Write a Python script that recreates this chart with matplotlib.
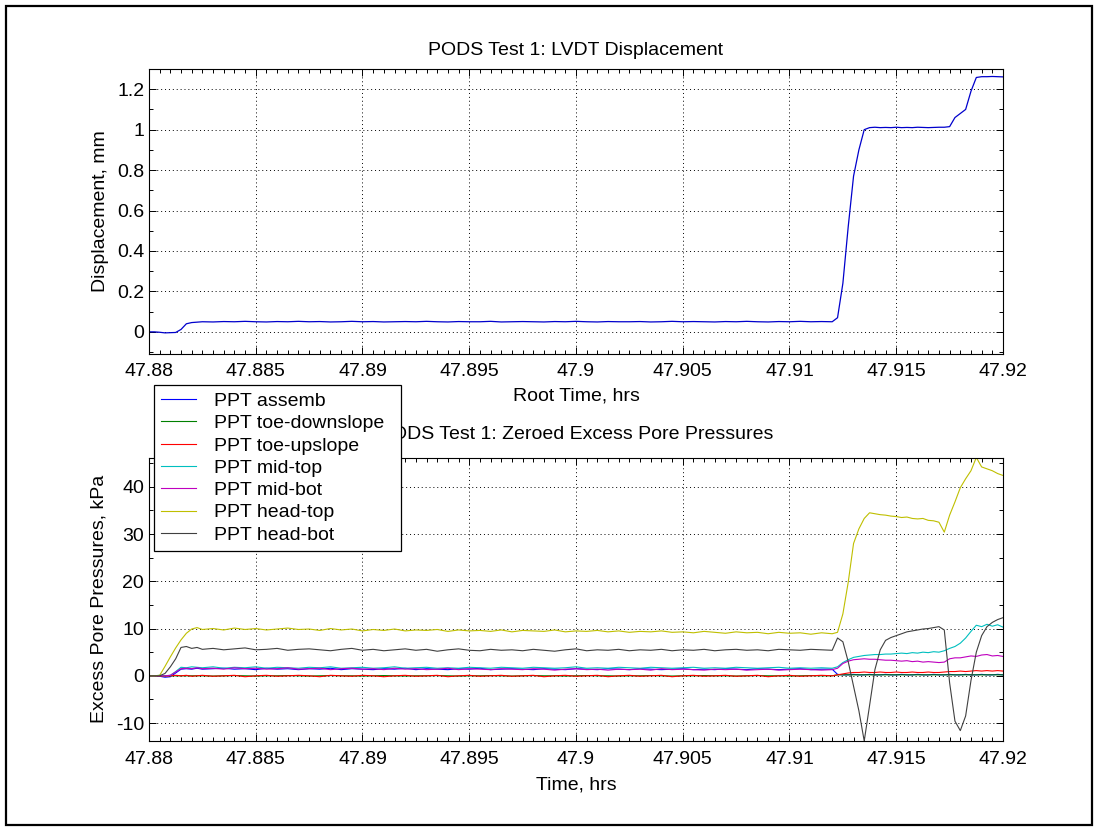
import matplotlib
matplotlib.use("Agg")
import matplotlib.pyplot as plt
from matplotlib.ticker import MultipleLocator, FuncFormatter
from matplotlib.patches import Rectangle

plt.rcParams['font.family'] = ['Liberation Sans', 'DejaVu Sans']

# ---------------- data ----------------
time_hrs = [
    47.88000, 47.88025, 47.88050, 47.88075, 47.88100, 47.88125, 47.88150, 47.88175, 47.88200, 47.88225,
    47.8825, 47.8830, 47.8835, 47.8840, 47.8845, 47.8850, 47.8855, 47.8860, 47.8865, 47.8870,
    47.8875, 47.8880, 47.8885, 47.8890, 47.8895, 47.8900, 47.8905, 47.8910, 47.8915, 47.8920,
    47.8925, 47.8930, 47.8935, 47.8940, 47.8945, 47.8950, 47.8955, 47.8960, 47.8965, 47.8970,
    47.8975, 47.8980, 47.8985, 47.8990, 47.8995, 47.9000, 47.9005, 47.9010, 47.9015, 47.9020,
    47.9025, 47.9030, 47.9035, 47.9040, 47.9045, 47.9050, 47.9055, 47.9060, 47.9065, 47.9070,
    47.9075, 47.9080, 47.9085, 47.9090, 47.9095, 47.9100, 47.9105, 47.9110, 47.9115, 47.9120,
    47.91225, 47.91250, 47.91275, 47.91300, 47.91325, 47.91350, 47.91375, 47.91400, 47.91425, 47.91450,
    47.91475, 47.91500, 47.91525, 47.91550, 47.91575, 47.91600, 47.91625, 47.91650, 47.91675, 47.91700,
    47.91725, 47.91750, 47.91775, 47.91800, 47.91825, 47.91850, 47.91875, 47.91900, 47.91925, 47.91950,
    47.91975, 47.92000,
]

displacement_mm = [
    0.000, 0.000, -0.002, -0.005, -0.004, -0.003, 0.012, 0.040, 0.046, 0.048,
    0.050, 0.049, 0.051, 0.050, 0.052, 0.050, 0.049, 0.051, 0.050, 0.052,
    0.050, 0.051, 0.049, 0.050, 0.052, 0.050, 0.051, 0.049, 0.050, 0.051,
    0.050, 0.052, 0.050, 0.049, 0.051, 0.050, 0.050, 0.052, 0.049, 0.050,
    0.051, 0.050, 0.049, 0.051, 0.050, 0.052, 0.050, 0.049, 0.051, 0.050,
    0.050, 0.051, 0.049, 0.050, 0.052, 0.050, 0.051, 0.050, 0.049, 0.051,
    0.050, 0.052, 0.050, 0.049, 0.051, 0.050, 0.052, 0.050, 0.051, 0.050,
    0.070, 0.240, 0.520, 0.770, 0.900, 1.000, 1.010, 1.012, 1.010, 1.011,
    1.010, 1.012, 1.010, 1.011, 1.010, 1.012, 1.011, 1.010, 1.011, 1.012,
    1.012, 1.015, 1.060, 1.080, 1.100, 1.190, 1.258, 1.262, 1.262, 1.263,
    1.262, 1.261,
]

ppt_assemb = [
    0.0, 0.0, -0.1, -0.3, -0.2, 0.6, 1.4, 1.5, 1.4, 1.6,
    1.4, 1.5, 1.6, 1.4, 1.5, 1.3, 1.6, 1.4, 1.5, 1.3,
    1.5, 1.4, 1.6, 1.3, 1.5, 1.4, 1.3, 1.5, 1.4, 1.6,
    1.3, 1.5, 1.4, 1.3, 1.5, 1.4, 1.6, 1.3, 1.4, 1.5,
    1.4, 1.3, 1.5, 1.4, 1.3, 1.5, 1.4, 1.3, 1.5, 1.4,
    1.3, 1.5, 1.4, 1.3, 1.4, 1.5, 1.3, 1.4, 1.3, 1.5,
    1.4, 1.3, 1.5, 1.4, 1.3, 1.4, 1.5, 1.3, 1.4, 1.4,
    0.3, 0.2, 0.2, 0.3, 0.2, 0.2, 0.3, 0.2, 0.2, 0.3,
    0.2, 0.2, 0.3, 0.2, 0.2, 0.3, 0.2, 0.2, 0.3, 0.2,
    0.2, 0.3, 0.2, 0.2, 0.3, 0.2, 0.2, 0.3, 0.2, 0.2,
    0.3, 0.2,
]

ppt_toe_down = [
    0.0, 0.0, 0.0, 0.0, 0.0, 0.0, 0.0, 0.0, 0.0, 0.0,
    0.0, -0.05, 0.0, 0.05, 0.0, -0.05, 0.0, 0.0, 0.05, 0.0,
    -0.05, 0.0, 0.05, 0.0, 0.0, -0.05, 0.0, 0.05, 0.0, -0.05,
    0.0, 0.0, 0.05, 0.0, -0.05, 0.0, 0.0, 0.05, 0.0, -0.05,
    0.0, 0.05, 0.0, 0.0, -0.05, 0.0, 0.05, 0.0, 0.0, -0.05,
    0.0, 0.0, 0.05, 0.0, -0.05, 0.0, 0.0, 0.05, 0.0, 0.0,
    -0.05, 0.0, 0.05, 0.0, 0.0, -0.05, 0.0, 0.05, 0.0, 0.0,
    0.2, 0.2, 0.2, 0.2, 0.2, 0.2, 0.2, 0.2, 0.2, 0.2,
    0.2, 0.2, 0.2, 0.2, 0.2, 0.2, 0.2, 0.2, 0.2, 0.2,
    0.2, 0.2, 0.2, 0.2, 0.2, 0.2, 0.2, 0.2, 0.2, 0.2,
    0.2, 0.2,
]

ppt_toe_up = [
    0.0, 0.0, 0.0, -0.1, 0.0, 0.1, 0.0, 0.1, -0.1, 0.0,
    0.1, -0.1, 0.0, 0.1, -0.2, 0.0, 0.1, -0.1, 0.0, 0.1,
    0.0, -0.2, 0.1, 0.0, -0.1, 0.1, 0.0, -0.2, 0.0, 0.1,
    -0.1, 0.0, 0.1, -0.2, 0.0, 0.1, -0.1, 0.0, 0.1, -0.1,
    0.0, 0.1, -0.2, 0.0, 0.1, -0.1, 0.0, 0.1, -0.2, 0.0,
    0.1, -0.1, 0.0, 0.1, -0.2, 0.0, 0.1, -0.1, 0.0, 0.1,
    -0.1, 0.0, 0.1, -0.2, 0.0, 0.1, -0.1, 0.0, 0.1, 0.0,
    0.2, 0.4, 0.6, 0.7, 0.7, 0.8, 0.7, 0.7, 0.8, 0.7,
    0.7, 0.8, 0.7, 0.7, 0.8, 0.7, 0.7, 0.8, 0.7, 0.7,
    0.8, 0.9, 0.9, 1.0, 0.9, 1.0, 1.1, 1.0, 1.1, 1.0,
    1.1, 1.0,
]

ppt_mid_top = [
    0.0, 0.0, 0.1, 0.0, 0.1, 0.9, 1.8, 1.7, 1.9, 1.8,
    1.7, 1.9, 1.6, 1.8, 1.7, 1.9, 1.6, 1.8, 1.7, 1.6,
    1.8, 1.7, 1.9, 1.6, 1.7, 1.8, 1.6, 1.7, 1.9, 1.6,
    1.7, 1.8, 1.6, 1.7, 1.6, 1.8, 1.7, 1.6, 1.8, 1.7,
    1.6, 1.8, 1.7, 1.6, 1.7, 1.9, 1.6, 1.7, 1.6, 1.8,
    1.7, 1.6, 1.8, 1.7, 1.6, 1.7, 1.8, 1.6, 1.7, 1.6,
    1.8, 1.7, 1.6, 1.7, 1.8, 1.6, 1.7, 1.6, 1.7, 1.6,
    1.9, 2.8, 3.4, 3.9, 4.1, 4.3, 4.4, 4.5, 4.5, 4.6,
    4.6, 4.7, 4.8, 4.7, 4.9, 4.8, 5.0, 4.9, 5.1, 5.0,
    5.3, 5.8, 6.2, 6.9, 8.0, 9.4, 10.7, 10.4, 10.9, 10.5,
    10.8, 10.3,
]

ppt_mid_bot = [
    0.0, 0.0, 0.0, 0.0, 0.1, 0.8, 1.5, 1.6, 1.5, 1.7,
    1.5, 1.6, 1.4, 1.7, 1.5, 1.6, 1.4, 1.5, 1.7, 1.4,
    1.5, 1.6, 1.3, 1.5, 1.6, 1.4, 1.5, 1.3, 1.6, 1.4,
    1.5, 1.3, 1.4, 1.6, 1.3, 1.5, 1.4, 1.3, 1.5, 1.4,
    1.3, 1.5, 1.4, 1.2, 1.4, 1.5, 1.3, 1.4, 1.2, 1.4,
    1.3, 1.4, 1.2, 1.5, 1.3, 1.4, 1.3, 1.2, 1.4, 1.3,
    1.4, 1.2, 1.3, 1.4, 1.2, 1.3, 1.4, 1.3, 1.2, 1.3,
    1.6, 2.6, 3.1, 3.4, 3.5, 3.6, 3.5, 3.5, 3.4, 3.3,
    3.3, 3.2, 3.1, 3.2, 3.0, 3.1, 2.9, 3.0, 2.9, 2.8,
    2.9, 3.6, 3.8, 3.8, 4.0, 4.2, 4.1, 4.4, 4.5, 4.2,
    4.3, 4.1,
]

ppt_head_top = [
    0.0, 0.0, 0.1, 2.0, 4.0, 5.9, 7.6, 9.0, 9.9, 10.2,
    9.8, 10.0, 9.7, 10.1, 9.8, 10.0, 9.7, 9.9, 10.1, 9.8,
    9.9, 9.6, 10.0, 9.7, 9.9, 9.5, 9.8, 9.6, 9.9, 9.5,
    9.7, 9.6, 9.8, 9.4, 9.7, 9.5, 9.6, 9.4, 9.7, 9.3,
    9.6, 9.5, 9.4, 9.7, 9.3, 9.5, 9.4, 9.6, 9.3, 9.5,
    9.2, 9.4, 9.3, 9.5, 9.2, 9.3, 9.1, 9.4, 9.2, 9.0,
    9.3, 9.1, 9.2, 8.9, 9.2, 9.0, 9.1, 8.8, 9.1, 8.9,
    9.2, 13.1, 19.8, 28.0, 31.1, 33.3, 34.5, 34.3, 34.1, 34.0,
    33.8, 33.7, 33.5, 33.6, 33.3, 33.2, 33.3, 32.9, 32.8, 32.5,
    30.4, 34.0, 36.8, 39.8, 41.7, 43.4, 46.2, 44.2, 43.8, 43.4,
    42.8, 42.4,
]

ppt_head_bot = [
    0.0, 0.0, 0.0, 0.5, 1.9, 3.6, 6.0, 6.2, 5.8, 6.0,
    5.6, 5.8, 5.5, 5.7, 5.9, 5.5, 5.6, 5.8, 5.4, 5.6,
    5.7, 5.5, 5.3, 5.6, 5.8, 5.4, 5.6, 5.3, 5.5, 5.7,
    5.4, 5.6, 5.2, 5.5, 5.7, 5.4, 5.3, 5.6, 5.4, 5.5,
    5.3, 5.6, 5.4, 5.2, 5.5, 5.7, 5.3, 5.5, 5.4, 5.6,
    5.3, 5.5, 5.4, 5.6, 5.3, 5.5, 5.4, 5.6, 5.3, 5.5,
    5.6, 5.4, 5.5, 5.3, 5.6, 5.5, 5.4, 5.6, 5.5, 5.4,
    8.0, 7.2, 3.0, -2.2, -7.4, -13.8, -6.3, 1.3, 5.5, 7.5,
    8.1, 8.5, 8.9, 9.3, 9.5, 9.7, 9.9, 10.0, 10.2, 10.4,
    9.7, -1.5, -9.6, -11.6, -8.5, -1.0, 5.0, 8.5, 10.4, 11.3,
    11.9, 12.3,
]

series_labels = ['PPT assemb', 'PPT toe-downslope', 'PPT toe-upslope', 'PPT mid-top',
                 'PPT mid-bot', 'PPT head-top', 'PPT head-bot']
series_values = [ppt_assemb, ppt_toe_down, ppt_toe_up, ppt_mid_top,
                 ppt_mid_bot, ppt_head_top, ppt_head_bot]
series_colors = [(0, 0, 1), (0, 0.5, 0), (1, 0, 0), (0, 0.75, 0.75),
                 (0.75, 0, 0.75), (0.75, 0.75, 0), (0.25, 0.25, 0.25)]

x_ticks = [47.88, 47.885, 47.89, 47.895, 47.9, 47.905, 47.91, 47.915, 47.92]
disp_ticks = [0, 0.2, 0.4, 0.6, 0.8, 1.0, 1.2]
ppt_ticks = [-10, 0, 10, 20, 30, 40]

# ---------------- figure ----------------
W, H = 1099, 831
fig = plt.figure(figsize=(W / 100, H / 100), dpi=100)
FS = 14

ax1 = fig.add_axes([149 / W, 1 - 353.5 / H, 854 / W, 284.5 / H])
ax2 = fig.add_axes([149 / W, 1 - 741 / H, 854 / W, 283.5 / H])

fmt = FuncFormatter(lambda v, p: '%g' % round(v, 6))


def style(ax, minor_y):
    ax.set_xlim(47.88, 47.92)
    ax.set_xticks(x_ticks)
    ax.xaxis.set_minor_locator(MultipleLocator(0.0005))
    ax.yaxis.set_minor_locator(MultipleLocator(minor_y))
    ax.xaxis.set_major_formatter(fmt)
    ax.yaxis.set_major_formatter(fmt)
    ax.tick_params(which='both', direction='in', top=True, right=True,
                   labelsize=FS, width=0.7, colors='black')
    ax.tick_params(axis='x', which='major', length=5, pad=7)
    ax.tick_params(axis='y', which='major', length=5, pad=3.5)
    ax.tick_params(which='minor', length=3)
    ax.grid(True, which='major', color='black', linestyle=(0, (1, 3)), linewidth=0.7)
    for s in ax.spines.values():
        s.set_linewidth(0.8)
        s.set_color('black')


# top panel
ax1.plot(time_hrs, displacement_mm, color=(0, 0, 0.8), linewidth=0.9)
style(ax1, 0.1)
ax1.set_ylim(-0.107, 1.3)
ax1.set_yticks(disp_ticks)
ax1.set_title('PODS Test 1: LVDT Displacement', fontsize=FS, pad=10)
ax1.set_xlabel('Root Time, hrs', fontsize=FS, labelpad=5)
ax1.set_ylabel('Displacement, mm', fontsize=FS, labelpad=6)

# bottom panel
handles = []
for vals, lab, col in zip(series_values, series_labels, series_colors):
    h, = ax2.plot(time_hrs, vals, color=col, linewidth=0.8, label=lab)
    handles.append(h)
style(ax2, 5)
ax2.set_ylim(-13.8, 46.2)
ax2.set_yticks(ppt_ticks)
ax2.set_title('PODS Test 1: Zeroed Excess Pore Pressures', fontsize=FS, pad=13)
ax2.set_xlabel('Time, hrs', fontsize=FS, labelpad=6)
ax2.set_ylabel('Excess Pore Pressures, kPa', fontsize=FS, labelpad=6)

leg = ax2.legend(handles=handles, loc='upper left',
                 bbox_to_anchor=(154 / W, 1 - 552 / H, 247 / W, 167 / H),
                 bbox_transform=fig.transFigure, mode='expand', borderaxespad=0,
                 fontsize=FS, frameon=True, fancybox=False, framealpha=1,
                 edgecolor='black', borderpad=0.38, labelspacing=0.24,
                 handlelength=1.8, handletextpad=0.9)
leg.get_frame().set_linewidth(0.9)
leg.set_zorder(10)

# outer border
fig.patches.append(Rectangle((6 / W, 1 - 825 / H), 1086 / W, 819 / H,
                             transform=fig.transFigure, fill=False,
                             edgecolor='black', linewidth=1.6))

fig.savefig('out.png', dpi=100, facecolor='white')
